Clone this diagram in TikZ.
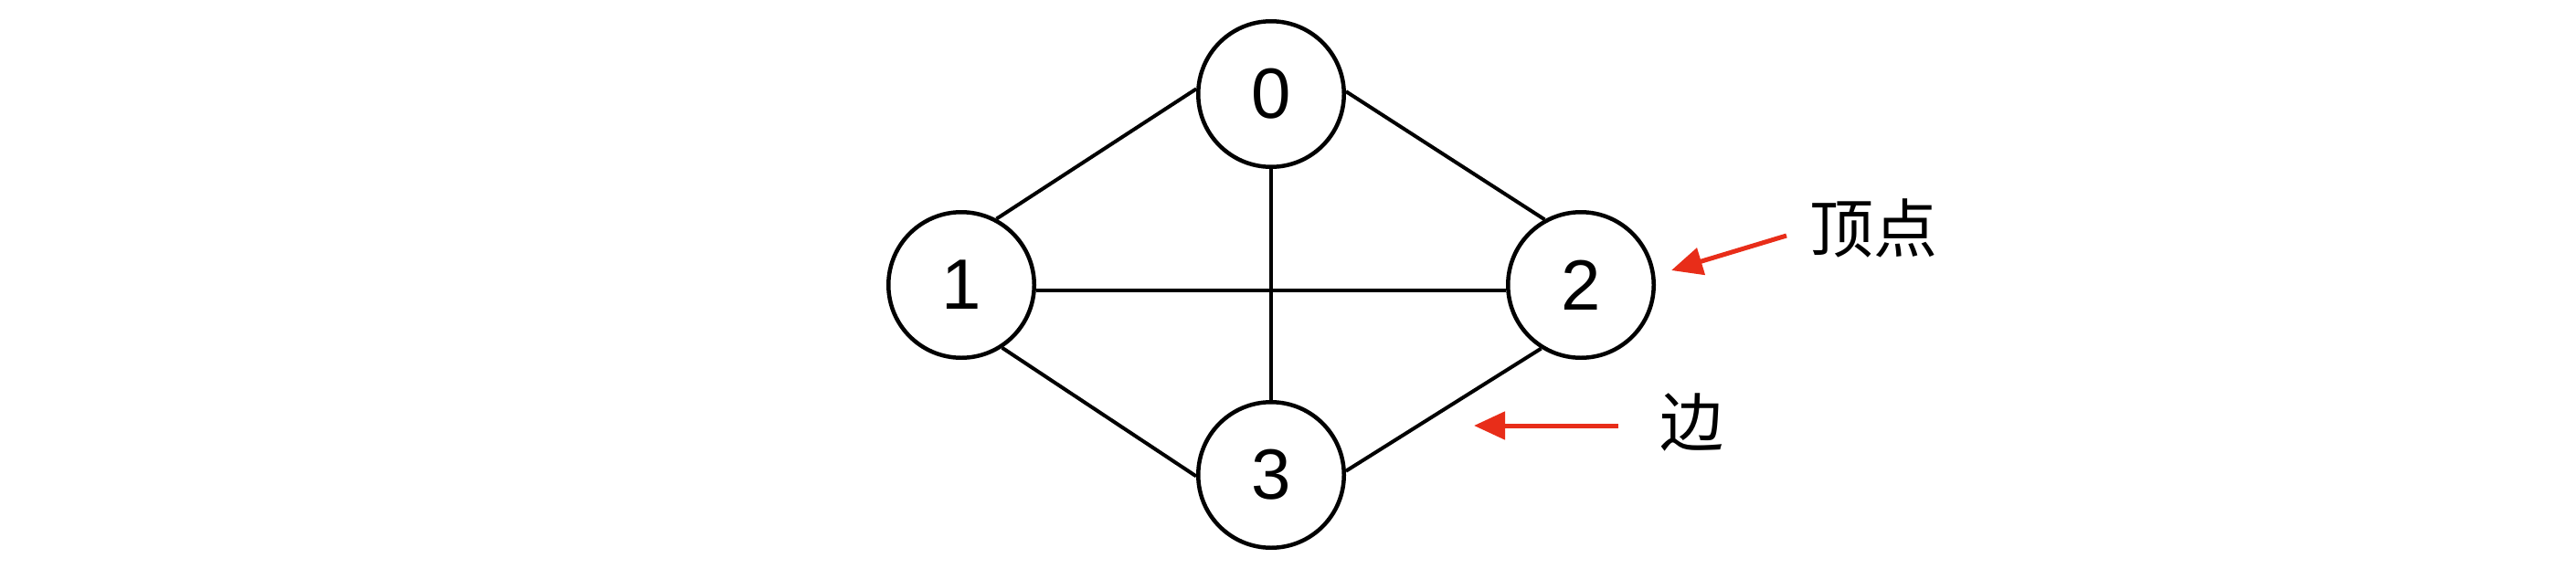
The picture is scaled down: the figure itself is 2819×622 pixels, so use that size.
\documentclass[tikz,border=0pt]{standalone}
\usepackage{fontspec}
\setmainfont{Liberation Sans}
\newfontfamily\cjk{Noto Sans CJK SC}
\usetikzlibrary{arrows.meta}
\definecolor{arrred}{RGB}{232,45,25}
\tikzset{
  vertex/.style={circle, draw=black, line width=4.5pt, minimum size=159.5pt, inner sep=0pt,
    font=\fontsize{78}{94}\selectfont},
  edge/.style={draw=black, line width=4pt},
  pointer/.style={draw=arrred, line width=5pt, -{Triangle[length=34pt,width=30pt]}},
  lbl/.style={font=\cjk\fontsize{70}{84}\selectfont, inner sep=0pt}
}
\begin{document}
\begin{tikzpicture}[x=1pt,y=-1pt]
\useasboundingbox (0,0) rectangle (2819,622);
\node[vertex] (n0) at (1391,103) {0};
\node[vertex] (n1) at (1052,312) {1};
\node[vertex] (n2) at (1730,312) {2};
\node[vertex] (n3) at (1391,520) {3};
\draw[edge] (n0.176) -- (n1.62);
\draw[edge] (n0.2) -- (n2.119);
\draw[edge] (n0.south) -- (n3.north);
\draw[edge] (n1.-4) -- (n2.184);
\draw[edge] (n1.-57) -- (n3.181);
\draw[edge] (n2.238) -- (n3.3);
\node[lbl] (ding) at (2050,250) {顶点};
\node[lbl] (bian) at (1851,462) {边};
\coordinate (a1s) at (1955,258);
\coordinate (a1e) at (1829,296);
\coordinate (a2s) at (1771,466);
\coordinate (a2e) at (1613,466);
\draw[pointer] (a1s) -- (a1e);
\draw[pointer] (a2s) -- (a2e);
\end{tikzpicture}
\end{document}
